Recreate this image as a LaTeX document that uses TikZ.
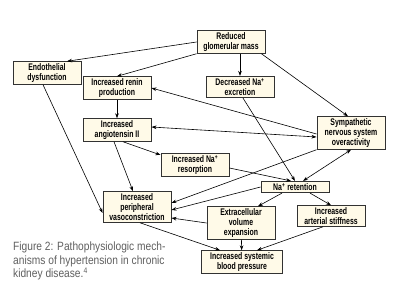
\documentclass[tikz,border=0pt]{standalone}
\usepackage{fontspec}
\setmainfont{Liberation Sans}
\newfontfamily\boxfont{Liberation Sans}[FakeStretch=0.72]
\newfontfamily\capfont{Liberation Sans}[FakeStretch=0.85]
\usetikzlibrary{positioning,arrows.meta}
\definecolor{boxfill}{RGB}{255,250,232}
\definecolor{boxline}{RGB}{50,50,50}
\definecolor{capgray}{RGB}{95,95,95}

\begin{document}
\begin{tikzpicture}[x=1pt,y=-1pt,
    box/.style={draw=boxline, fill=boxfill, line width=0.9pt, minimum width=68pt,
      align=center, inner xsep=2pt, inner ysep=1.8pt,
      font=\boxfont\bfseries\fontsize{9.6}{10}\selectfont},
    arr/.style={line width=0.6pt, -{Stealth[length=5pt,width=3.6pt]}},
    darr/.style={line width=0.6pt, {Stealth[length=5pt,width=3.6pt]}-{Stealth[length=5pt,width=3.6pt]}}]
  \useasboundingbox (0,0) rectangle (400,300);

  % boxes
  \node[box] (rgm) at (231,42) {Reduced\\glomerular mass};
  \node[box] (endo) at (47,73) {Endothelial\\dysfunction};
  \node[box] (renin) at (117,88) {Increased renin\\production};
  \node[box] (excr) at (240,87) {Decreased Na\textsuperscript{+}\\excretion};
  \node[box] (angio) at (117,130) {Increased\\angiotensin II};
  \node[box] (symp) at (351,133) {Sympathetic\\nervous system\\overactivity};
  \node[box] (resorp) at (195,165) {Increased Na\textsuperscript{+}\\resorption};
  \node[box] (naret) at (295,187) {Na\textsuperscript{+} retention};
  \node[box] (ipv) at (137,207) {Increased\\peripheral\\vasoconstriction};
  \node[box] (ecv) at (241,223) {Extracellular\\volume\\expansion};
  \node[box] (stiff) at (331,216) {Increased\\arterial stiffness};
  \node[box, minimum width=81pt] (bp) at (242,262) {Increased systemic\\blood pressure};

  % arrows
  \draw[arr] (rgm.west) -- ([xshift=20pt]endo.north);
  \draw[arr] (rgm.south west) -- (renin.north);
  \draw[arr] (rgm.south -| excr) -- (excr.north);
  \draw[arr] ([xshift=-4pt]rgm.south east) -- ([xshift=-3pt]symp.north);
  \draw[arr] ([xshift=-4pt]endo.south) -- ([yshift=-6pt]ipv.west);
  \draw[arr] (renin) -- (angio);
  \draw[arr] ([yshift=-1pt]symp.west) -- (renin.east);
  \draw[darr] ([yshift=3pt]angio.east) -- ([yshift=-4pt]symp.west);
  \draw[arr] ([xshift=6pt]angio.south) -- ([yshift=-2pt]resorp.north west);
  \draw[arr] ([xshift=-3pt]angio.south) -- ([xshift=-4pt]ipv.north);
  \draw[arr] ([xshift=3pt]excr.south) -- (naret.north);
  \draw[arr] ([yshift=-3pt]resorp.east) -- ([xshift=-4pt]naret.north);
  \draw[darr] (symp.south) -- ([xshift=8pt]naret.north);
  \draw[arr] (symp.south west) -- ([yshift=4pt]ipv.east);
  \draw[arr] (naret.west) -- ([yshift=-3pt]ipv.east);
  \draw[arr] (ecv.west) -- ([yshift=-11pt]ipv.east);
  \draw[arr] ([xshift=-13pt]naret.south) -- ([xshift=17pt]ecv.north);
  \draw[arr] ([xshift=15pt]naret.south) -- (stiff.north);
  \draw[arr] (ecv) -- (bp);
  \draw[arr] ([xshift=-8pt]stiff.south) -- ([xshift=15pt]bp.north);
  \draw[arr] ([xshift=3pt]ipv.south) -- ([xshift=-22pt]bp.north);

  % caption
  \node[anchor=north west, align=left, inner sep=0pt, text=capgray,
    font=\capfont\fontsize{12}{13.5}\selectfont] (cap) at (13,242)
    {Figure 2: Pathophysiologic mech-\\anisms of hypertension in chronic\\kidney disease.\textsuperscript{4}};
\end{tikzpicture}
\end{document}
